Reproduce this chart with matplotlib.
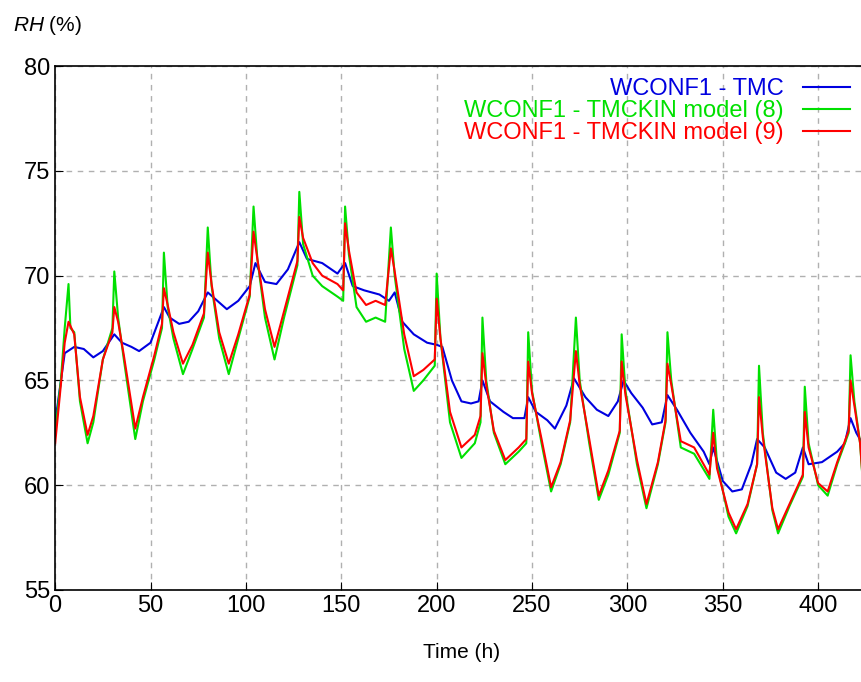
import numpy as np
import matplotlib.pyplot as plt

plt.rcParams['font.family'] = ['Liberation Sans', 'DejaVu Sans']
plt.rcParams['mathtext.fontset'] = 'custom'
plt.rcParams['mathtext.it'] = 'Liberation Sans:italic'
plt.rcParams['mathtext.rm'] = 'Liberation Sans'

# WCONF1 - TMC
tmc_t = [0, 5, 10, 15, 20, 25, 31, 35, 40, 44, 50, 57, 60, 65, 70, 75, 80, 85, 90, 96, 102, 105, 110, 116, 122, 128, 132,
         140, 148, 152, 156, 162, 170, 175, 178, 182, 188, 195, 200, 203, 208, 213, 218, 222, 224, 228, 235, 240, 246,
         248, 252, 258, 262, 268, 272, 278, 284, 290, 295, 298, 302, 308, 313, 318, 321, 326, 333, 340, 343, 345, 350,
         355, 360, 365, 368, 372, 378, 383, 388, 392, 395, 402, 410, 414, 417, 420, 425]
tmc_rh = [63, 66.3, 66.6, 66.5, 66.1, 66.4, 67.2, 66.8, 66.6, 66.4, 66.8, 68.5, 68, 67.7, 67.8, 68.3, 69.2, 68.8, 68.4,
          68.8, 69.5, 70.6, 69.7, 69.6, 70.3, 71.6, 70.8, 70.6, 70.1, 70.6, 69.5, 69.3, 69.1, 68.8, 69.2, 67.8, 67.2,
          66.8, 66.7, 66.6, 65, 64, 63.9, 64, 65, 64, 63.5, 63.2, 63.2, 64.2, 63.5, 63.1, 62.7, 63.8, 65.1, 64.2, 63.6,
          63.3, 64, 65, 64.4, 63.7, 62.9, 63, 64.3, 63.6, 62.5, 61.6, 61, 61.8, 60.2, 59.7, 59.8, 61, 62.2, 61.8, 60.6,
          60.3, 60.6, 61.8, 61, 61.1, 61.6, 62, 63.2, 62.5, 61.7]

# WCONF1 - TMCKIN model (8)
m8_t = [0, 3, 5, 7, 8, 10, 13, 17, 20, 25, 30, 31, 33, 36, 42, 46, 52, 56, 57, 59, 62, 67, 72, 78, 80, 82, 86, 91, 96,
        102, 104, 106, 110, 115, 120, 127, 128, 130, 135, 140, 148, 151, 152, 154, 158, 163, 168, 173, 176, 178, 183,
        188, 193, 199, 200, 202, 207, 213, 220, 223, 224, 226, 230, 236, 243, 247, 248, 250, 255, 260, 265, 270, 273,
        275, 280, 285, 290, 296, 297, 299, 305, 310, 316, 320, 321, 323, 328, 335, 343, 345, 347, 353, 357, 363, 368,
        369, 371, 376, 379, 385, 392, 393, 395, 400, 405, 410, 416, 417, 419, 422, 425]
m8_rh = [62.5, 65, 67.5, 69.6, 67.5, 67.3, 64, 62.0, 63, 66, 67.5, 70.2, 68, 66, 62.2, 64, 66, 67.5, 71.1, 68.5, 67,
         65.3, 66.5, 68, 72.3, 69.5, 67, 65.3, 67, 69, 73.3, 70.8, 68, 66.0, 68, 70.5, 74, 71.5, 70, 69.5, 69, 68.8,
         73.3, 71, 68.5, 67.8, 68, 67.8, 72.3, 70, 66.5, 64.5, 65, 65.7, 70.1, 67, 63, 61.3, 62, 63, 68, 65, 62.5, 61,
         61.6, 62, 67.3, 64.5, 62, 59.7, 61, 63, 68, 65, 62, 59.3, 60.5, 62.5, 67.2, 64.5, 61, 58.9, 61, 63, 67.3, 65,
         61.8, 61.5, 60.3, 63.6, 61, 58.5, 57.7, 59, 61, 65.7, 62.5, 58.8, 57.7, 59, 60.4, 64.7, 62, 60, 59.5, 61, 62.5,
         66.2, 64, 62, 58]

# WCONF1 - TMCKIN model (9)
m9_t = m8_t
m9_rh = [62, 64.8, 66.8, 67.8, 67.6, 67.2, 64.2, 62.4, 63.3, 66, 67.3, 68.5, 67.8, 66.2, 62.7, 64.2, 66.2, 67.7, 69.4,
         68.6, 67.3, 65.8, 66.7, 68.2, 71.1, 69.6, 67.3, 65.8, 67.2, 69.1, 72.1, 70.8, 68.4, 66.6, 68.3, 70.7, 72.8,
         71.8, 70.6, 70, 69.6, 69.3, 72.5, 71.2, 69.2, 68.6, 68.8, 68.6, 71.3, 70.2, 67.2, 65.2, 65.5, 66, 68.9, 67,
         63.5, 61.8, 62.4, 63.3, 66.3, 64.8, 62.6, 61.2, 61.8, 62.2, 65.9, 64.4, 62.2, 59.9, 61.1, 63.1, 66.4, 64.8,
         62.2, 59.5, 60.7, 62.6, 65.9, 64.3, 61.2, 59.1, 61.1, 63.1, 65.8, 64.8, 62.1, 61.8, 60.5, 62.5, 60.8, 58.7,
         57.9, 59.1, 61, 64.2, 62.3, 58.9, 57.9, 59.1, 60.5, 63.5, 61.8, 60.1, 59.7, 61.1, 62.6, 65, 63.8, 62, 58.3]

fig = plt.figure(figsize=(8.62, 6.82), dpi=100)
ax = fig.add_axes([0.064, 0.135, 0.936, 0.768])

ax.plot(tmc_t, tmc_rh, color='#0000e0', lw=1.5, label='WCONF1 - TMC')
ax.plot(m8_t, m8_rh, color='#00e000', lw=1.5, label='WCONF1 - TMCKIN model (8)')
ax.plot(m9_t, m9_rh, color='#ff0000', lw=1.5, label='WCONF1 - TMCKIN model (9)')

ax.set_xlim(0, 423)
ax.set_ylim(55, 80)
ax.set_xticks(range(0, 401, 50))
ax.set_yticks(range(55, 81, 5))
ax.tick_params(labelsize=17, direction='in', length=6)
ax.grid(True, color='#b0b0b0', ls=(0, (4, 4)), lw=1)
for s in ax.spines.values():
    s.set_linewidth(1.2)

leg = ax.legend(loc='upper right', frameon=False, fontsize=17, markerfirst=False,
                handlelength=2.0, borderaxespad=0.1, labelspacing=0.0)
for txt, line in zip(leg.get_texts(), leg.get_lines()):
    txt.set_color(line.get_color())

fig.text(0.015, 0.955, r'$RH$ (%)', fontsize=15)
fig.text(0.535, 0.035, 'Time (h)', fontsize=15, ha='center')

fig.savefig('out.png', dpi=100)
